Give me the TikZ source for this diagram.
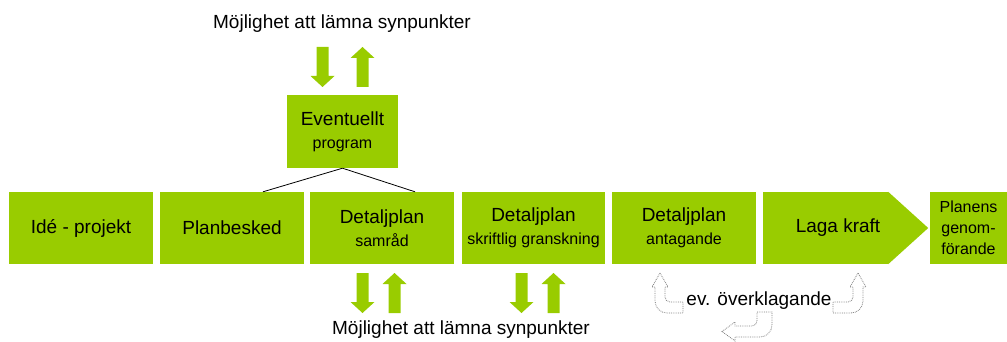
\documentclass[tikz,border=0pt]{standalone}
\usepackage{fontspec}
\setmainfont{Liberation Sans}
\definecolor{plangreen}{RGB}{153,204,0}
\newcommand{\subtxt}{\fontsize{16}{19}\selectfont}
\tikzset{
  box/.style={fill=plangreen, minimum height=72pt, inner sep=0pt, align=center, font=\fontsize{19}{23}\selectfont},
  fatarrow/.pic={\fill[plangreen] (-6,20) -- (6,20) -- (6,-9) -- (12,-9) -- (0,-20) -- (-12,-9) -- (-6,-9) -- cycle;},
  bent/.style={draw=gray, densely dotted, fill=white, line width=0.8pt},
}

\begin{document}
\begin{tikzpicture}[x=1pt, y=-1pt]
    % \draw[help lines] (0,0) grid (1007,342);
    \useasboundingbox (0,0) rectangle (1007,342);
    \node[box, minimum width=144pt] (ide) at (81,228) {Idé - projekt};
    \node[box, minimum width=144pt] (plan) at (232,228) {Planbesked};
    \node[box, minimum width=144pt] (samrad) at (382,228) {Detaljplan\\{\subtxt samråd}};
    \node[box, minimum width=143pt] (gransk) at (533.5,228) {Detaljplan\\{\subtxt skriftlig granskning}};
    \node[box, minimum width=144pt] (antag) at (684,228) {Detaljplan\\{\subtxt antagande}};
    \node[box, minimum width=125pt] (laga) at (825.5,228) {\hspace*{25pt}Laga kraft};
    \fill[plangreen] (laga.north east) -- ([xshift=40pt]laga.east) -- (laga.south east) -- cycle;
    \node[box, minimum width=77pt, font=\fontsize{16}{21}\selectfont] (genom) at (968.5,228) {Planens\\genom-\\förande};

    \node[box, minimum width=111pt, minimum height=73pt] (prog) at (342.5,131.5) {Eventuellt\\{\subtxt program}};
    \draw[line width=0.8pt] (prog.south) -- ([xshift=31pt]plan.north);
    \draw[line width=0.8pt] (prog.south) -- ([xshift=33pt]samrad.north);

    \node[font=\fontsize{19}{23}\selectfont] (topsyn) at (342,24) {Möjlighet att lämna synpunkter};
    \pic[yscale=-1] at (322.5,67) {fatarrow};
    \pic at (362.5,67) {fatarrow};

    \foreach \x in {362.5, 521.5} {
        \pic[yscale=-1] at (\x,293) {fatarrow};
        \pic at (\x+32,293) {fatarrow};
    }
    \node[font=\fontsize{19}{23}\selectfont] (botsyn) at (461,330) {Möjlighet att lämna synpunkter};

    % overklagande
    \draw[bent] (660,273) -- (668,287) -- (665,287) [rounded corners=5pt] -- (665,302) [sharp corners] -- (683,302) -- (683,313) [rounded corners=12pt] -- (655,313) [sharp corners] -- (655,287) -- (652,287) -- cycle;
    \draw[bent] (858,273) -- (850,287) -- (853,287) [rounded corners=5pt] -- (853,302) [sharp corners] -- (833,302) -- (833,313) [rounded corners=12pt] -- (863,313) [sharp corners] -- (863,287) -- (866,287) -- cycle;
    \draw[bent] (757,312) -- (772,312) [rounded corners=12pt] -- (772,337) [sharp corners] -- (735,337) -- (735,341) -- (722,331.5) -- (735,322) -- (735,326) [rounded corners=5pt] -- (757,326) [sharp corners] -- cycle;
    \node[font=\fontsize{19}{23}\selectfont, anchor=base] (overk) at (759,305) {ev. överklagande};
\end{tikzpicture}
\end{document}
